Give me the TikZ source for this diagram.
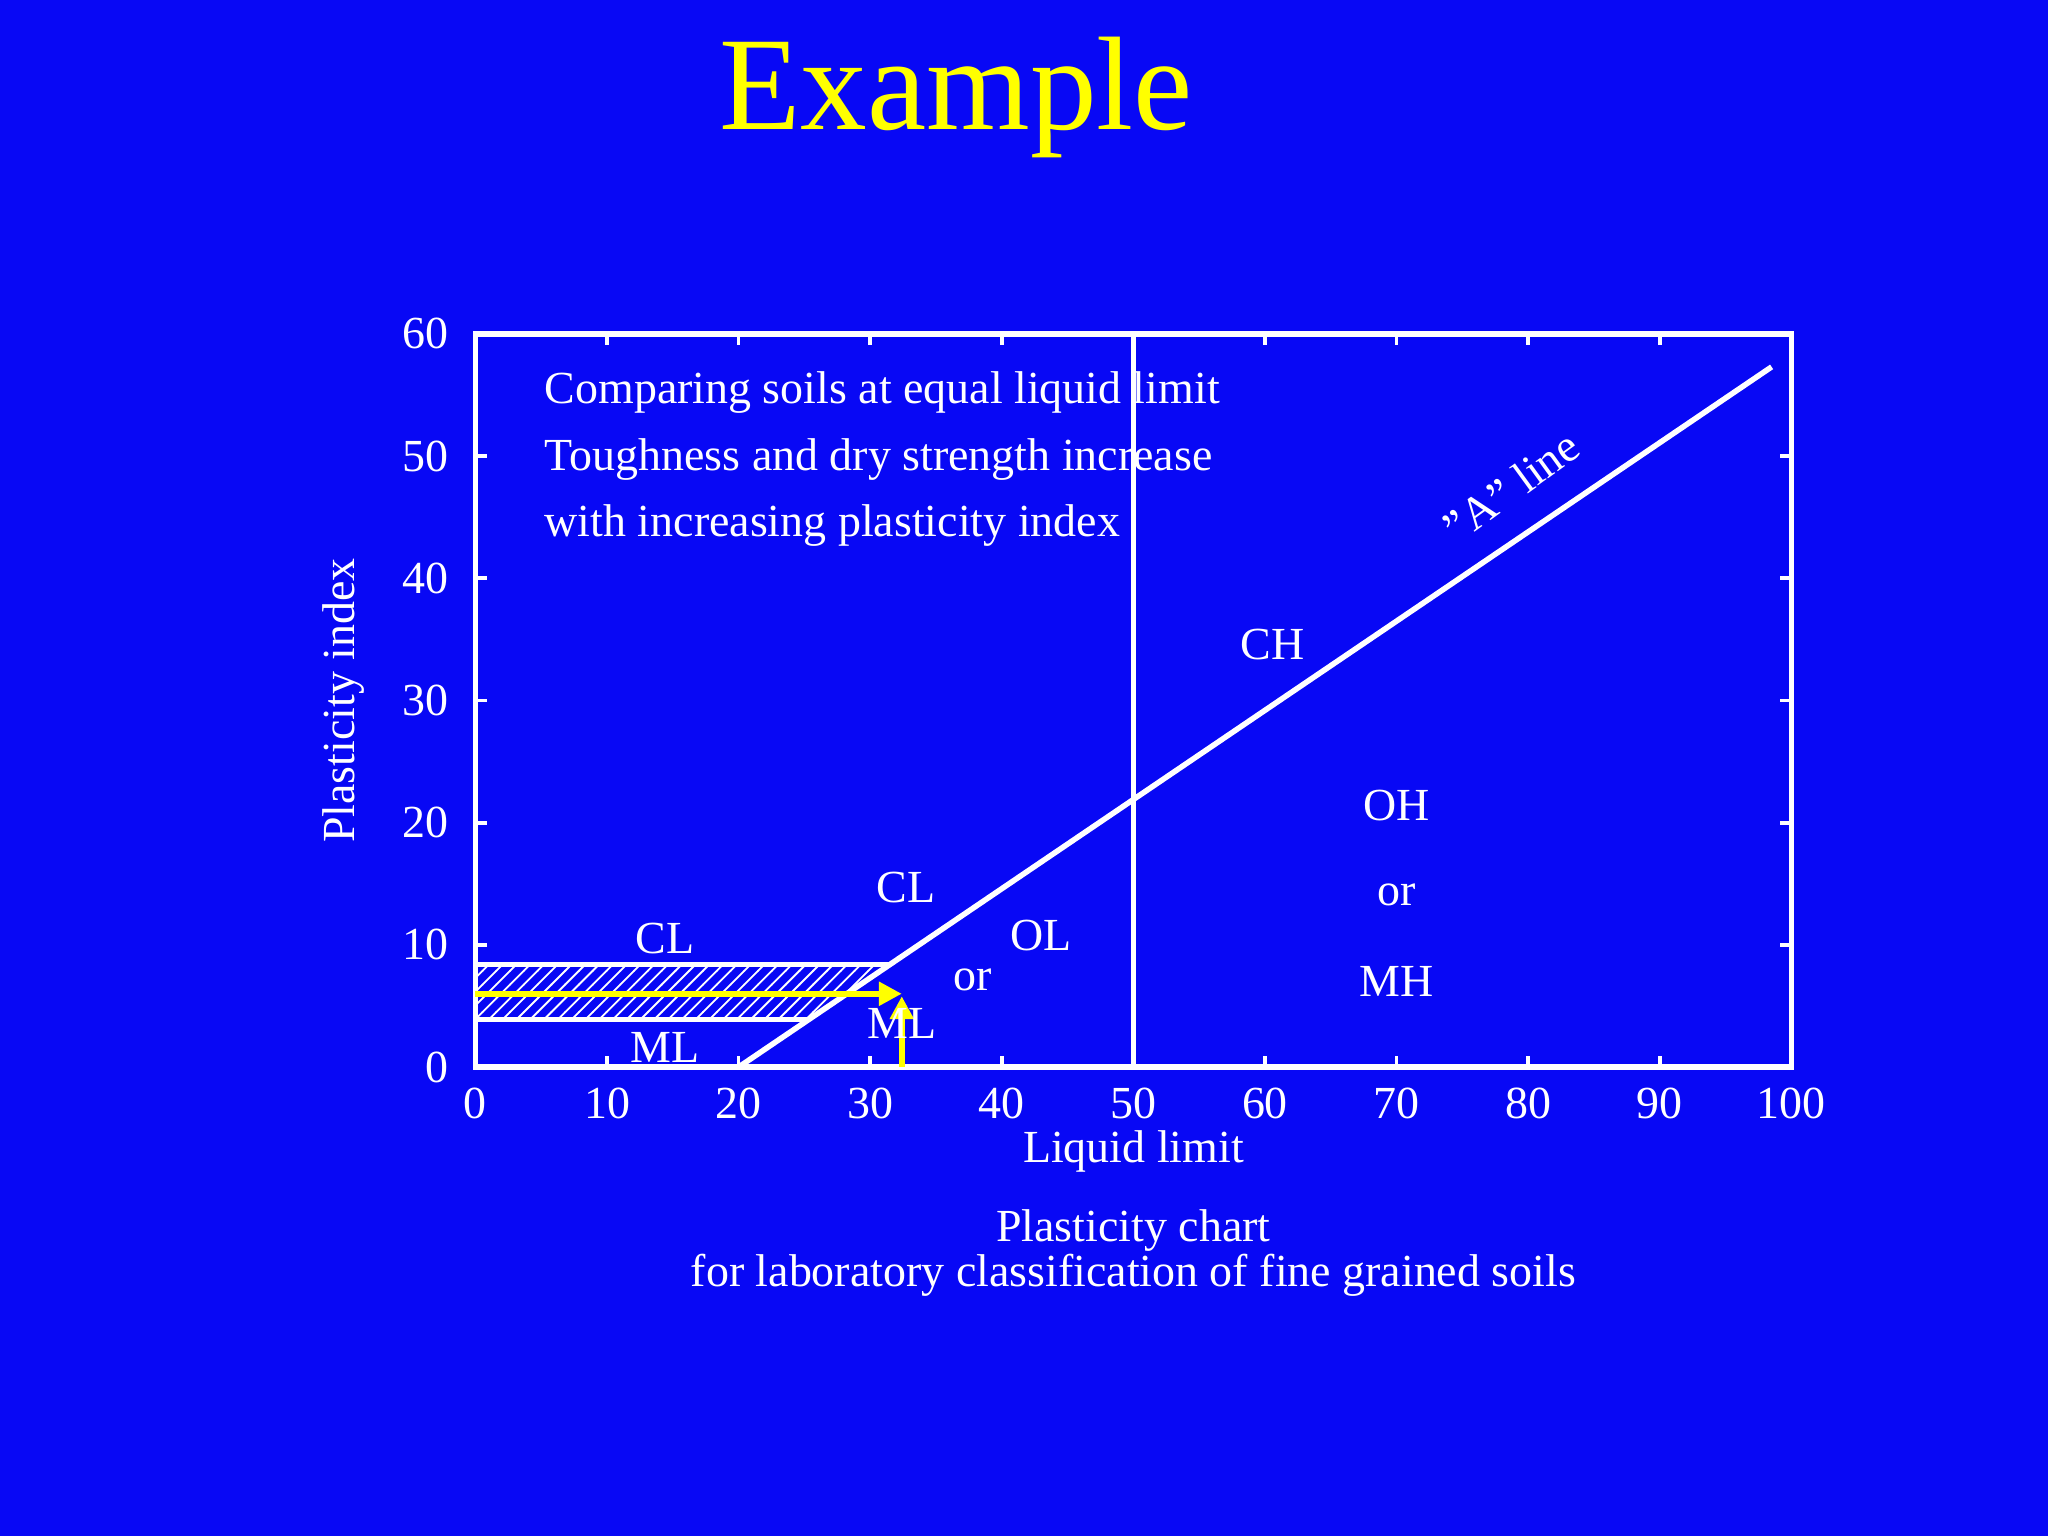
\documentclass[tikz,border=0pt]{standalone}
\usepackage{fontspec}
\setmainfont{Liberation Serif}
\usetikzlibrary{patterns,arrows.meta}
\definecolor{bg}{RGB}{8,8,245}
\definecolor{yel}{RGB}{255,255,0}
\tikzset{lbl/.style={text=white,font=\fontsize{10pt}{12pt}\selectfont,inner sep=0pt},
 ax/.style={white,line width=1.2pt},
 yarrow/.style={yel,line width=1.4pt,-{Triangle[length=5pt,width=5pt]}}}
\begin{document}
\begin{tikzpicture}[x=0.01cm,y=-0.01cm]
\fill[bg] (0,0) rectangle (1568,1176);
\useasboundingbox (0,0) rectangle (1568,1176);
\node[text=yel,font=\fontsize{29pt}{32pt}\selectfont,inner sep=0pt] (title) at (732,75) {Example};
\begin{scope}[shift={(364,817)},x=0.1007cm,y=0.0935cm]
\coordinate (o) at (0,0);
\coordinate (a0) at (20,0);
\coordinate (a1) at (98.5,57.3);
\coordinate (h1) at (31.5,8.4);
\coordinate (h2) at (25.3,3.9);
\fill[pattern=north east lines,pattern color=white] (0,3.9) -- (h2) -- (h1) -- (0,8.4) -- cycle;
\draw[white,line width=1pt] (0,8.4) -- (h1);
\draw[white,line width=1pt] (0,3.9) -- (h2);
\draw[white,line width=1.2pt] (a0) -- (a1);
\draw[white,line width=1pt] (50,0) -- (50,60);
\foreach \i in {10,20,...,90}{\draw[white,line width=0.8pt] (\i,0) -- ++(0,0.9) (\i,60) -- ++(0,-0.9);}
\foreach \j in {10,20,...,50}{\draw[white,line width=0.8pt] (0,\j) -- ++(0.9,0) (100,\j) -- ++(-0.9,0);}
\draw[ax] (0,0) rectangle (100,60);
\foreach \i in {0,10,...,100}{\node[lbl] at (\i,-3) {\i};}
\foreach \j in {0,10,...,60}{\node[lbl,anchor=east] at (-2,\j) {\j};}
\coordinate (p) at (32.4,6);
\draw[yarrow] (0,6) -- (p);
\draw[yarrow] (32.4,0) -- (32.4,5.8);
\node[lbl,anchor=west,align=left] (cmp) at (5.2,55.2) {Comparing soils at equal liquid limit};
\node[lbl,anchor=west] at (5.2,49.7) {Toughness and dry strength increase};
\node[lbl,anchor=west] at (5.2,44.3) {with increasing plasticity index};
\node[lbl,rotate=36] at (78.7,47.5) {"A" line};
\node[lbl] at (60.6,34.6) {CH};
\node[lbl] at (70,21.4) {OH};
\node[lbl] at (70,14.1) {or};
\node[lbl] at (70,7.0) {MH};
\node[lbl] at (32.7,14.7) {CL};
\node[lbl] at (43,10.8) {OL};
\node[lbl] at (37.8,7.1) {or};
\node[lbl] at (32.4,3.6) {ML};
\node[lbl] at (14.4,10.5) {CL};
\node[lbl] at (14.4,1.6) {ML};
\node[lbl] at (50,-6.9) {Liquid limit};
\node[lbl,rotate=90] at (-10,30) {Plasticity index};
\node[lbl] at (50,-13.4) {Plasticity chart};
\node[lbl] at (50,-17) {for laboratory classification of fine grained soils};
\end{scope}
\end{tikzpicture}
\end{document}
